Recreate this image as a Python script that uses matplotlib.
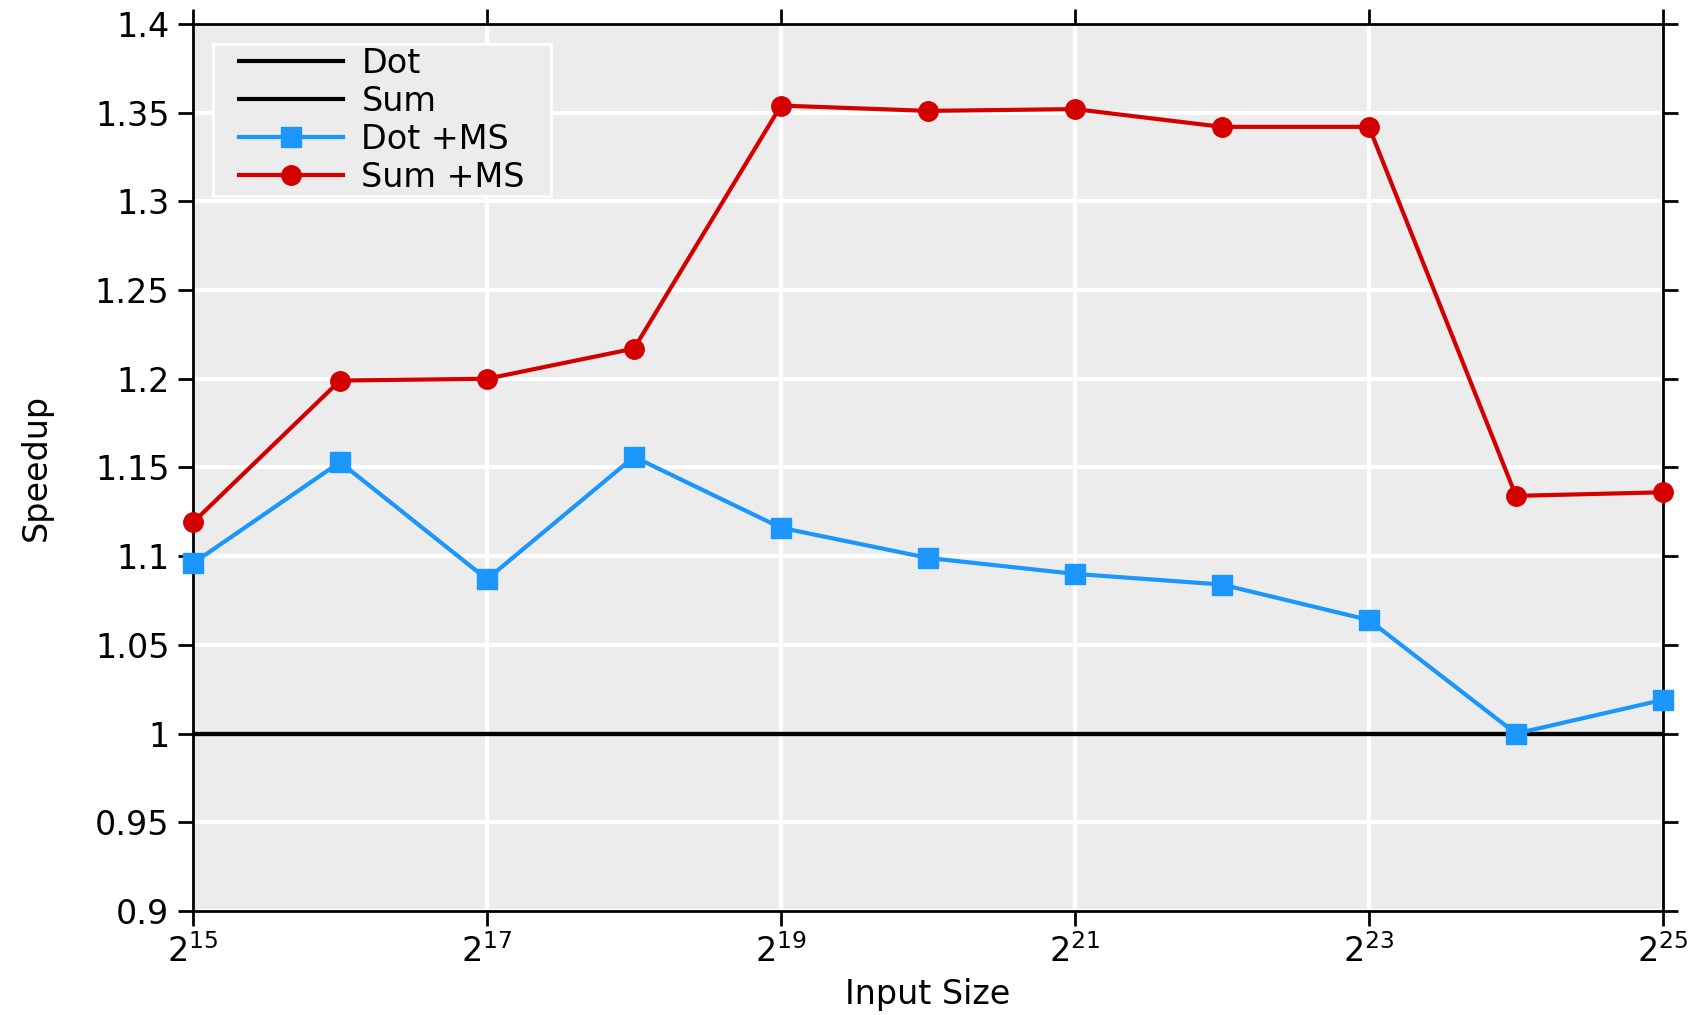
import math
import matplotlib
matplotlib.use("Agg")
from matplotlib import pyplot as plt
from matplotlib.ticker import FixedLocator, FuncFormatter, NullLocator

# input sizes as powers of two
exponents = [15, 16, 17, 18, 19, 20, 21, 22, 23, 24, 25]
sizes = [2 ** e for e in exponents]

# speedups
dot_ms = [1.096, 1.153, 1.087, 1.156, 1.116, 1.099, 1.090, 1.084, 1.064, 1.000, 1.019]
sum_ms = [1.119, 1.199, 1.200, 1.217, 1.354, 1.351, 1.352, 1.342, 1.342, 1.134, 1.136]
baseline = [1.0] * len(exponents)

xtick_exponents = [15, 17, 19, 21, 23, 25]
yticks = [0.9, 0.95, 1.0, 1.05, 1.1, 1.15, 1.2, 1.25, 1.3, 1.35, 1.4]

plt.rcParams['font.family'] = ['DejaVu Sans']
fig = plt.figure(figsize=(16.9, 10.15), dpi=100)
ax = fig.add_axes([0.1142, 0.1025, 0.8698, 0.8739])
ax.set_facecolor('#ececec')

ax.plot(sizes, baseline, color='black', lw=3, label='Dot', zorder=3)
ax.plot(sizes, baseline, color='black', lw=3, label='Sum', zorder=3)
ax.plot(sizes, dot_ms, color='#1a96fc', lw=3, marker='s', markersize=14,
        label='Dot +MS', zorder=4, clip_on=False)
ax.plot(sizes, sum_ms, color='#d40000', lw=3, marker='o', markersize=14,
        label='Sum +MS', zorder=4, clip_on=False)

ax.set_xscale('log', base=2)
ax.set_xlim(2 ** 15, 2 ** 25)
ax.set_ylim(0.9, 1.4)
ax.xaxis.set_major_locator(FixedLocator([2 ** e for e in xtick_exponents]))
ax.xaxis.set_minor_locator(NullLocator())
ax.xaxis.set_major_formatter(FuncFormatter(lambda v, p: r'$2^{%d}$' % round(math.log2(v))))
ax.set_yticks(yticks)
ax.yaxis.set_major_formatter(FuncFormatter(lambda v, p: '%g' % round(v, 2)))

ax.grid(True, color='white', lw=3, zorder=1)
ax.set_axisbelow(True)
ax.tick_params(axis='both', which='major', direction='out', length=11, width=2,
               labelsize=24, top=True, right=True, pad=6)
for s in ax.spines.values():
    s.set_linewidth(2)
    s.set_color('black')

ax.set_xlabel('Input Size', fontsize=24, labelpad=6)
ax.set_ylabel('Speedup', fontsize=24, labelpad=30)

# legend: wide side padding, almost none top/bottom
leg = ax.legend(loc='upper left', bbox_to_anchor=(0.0315, 0.9745), borderaxespad=0,
                fontsize=24, frameon=True, fancybox=False,
                facecolor='#ececec', edgecolor='white', framealpha=1,
                handlelength=3.1, handletextpad=0.56,
                labelspacing=0.15, borderpad=0)
frame = leg.get_frame()
frame.set_linewidth(2)
frame.set_boxstyle('square', pad=0.78)
frame.set_mutation_aspect(0.1)

plt.savefig('out.png', dpi=100)
